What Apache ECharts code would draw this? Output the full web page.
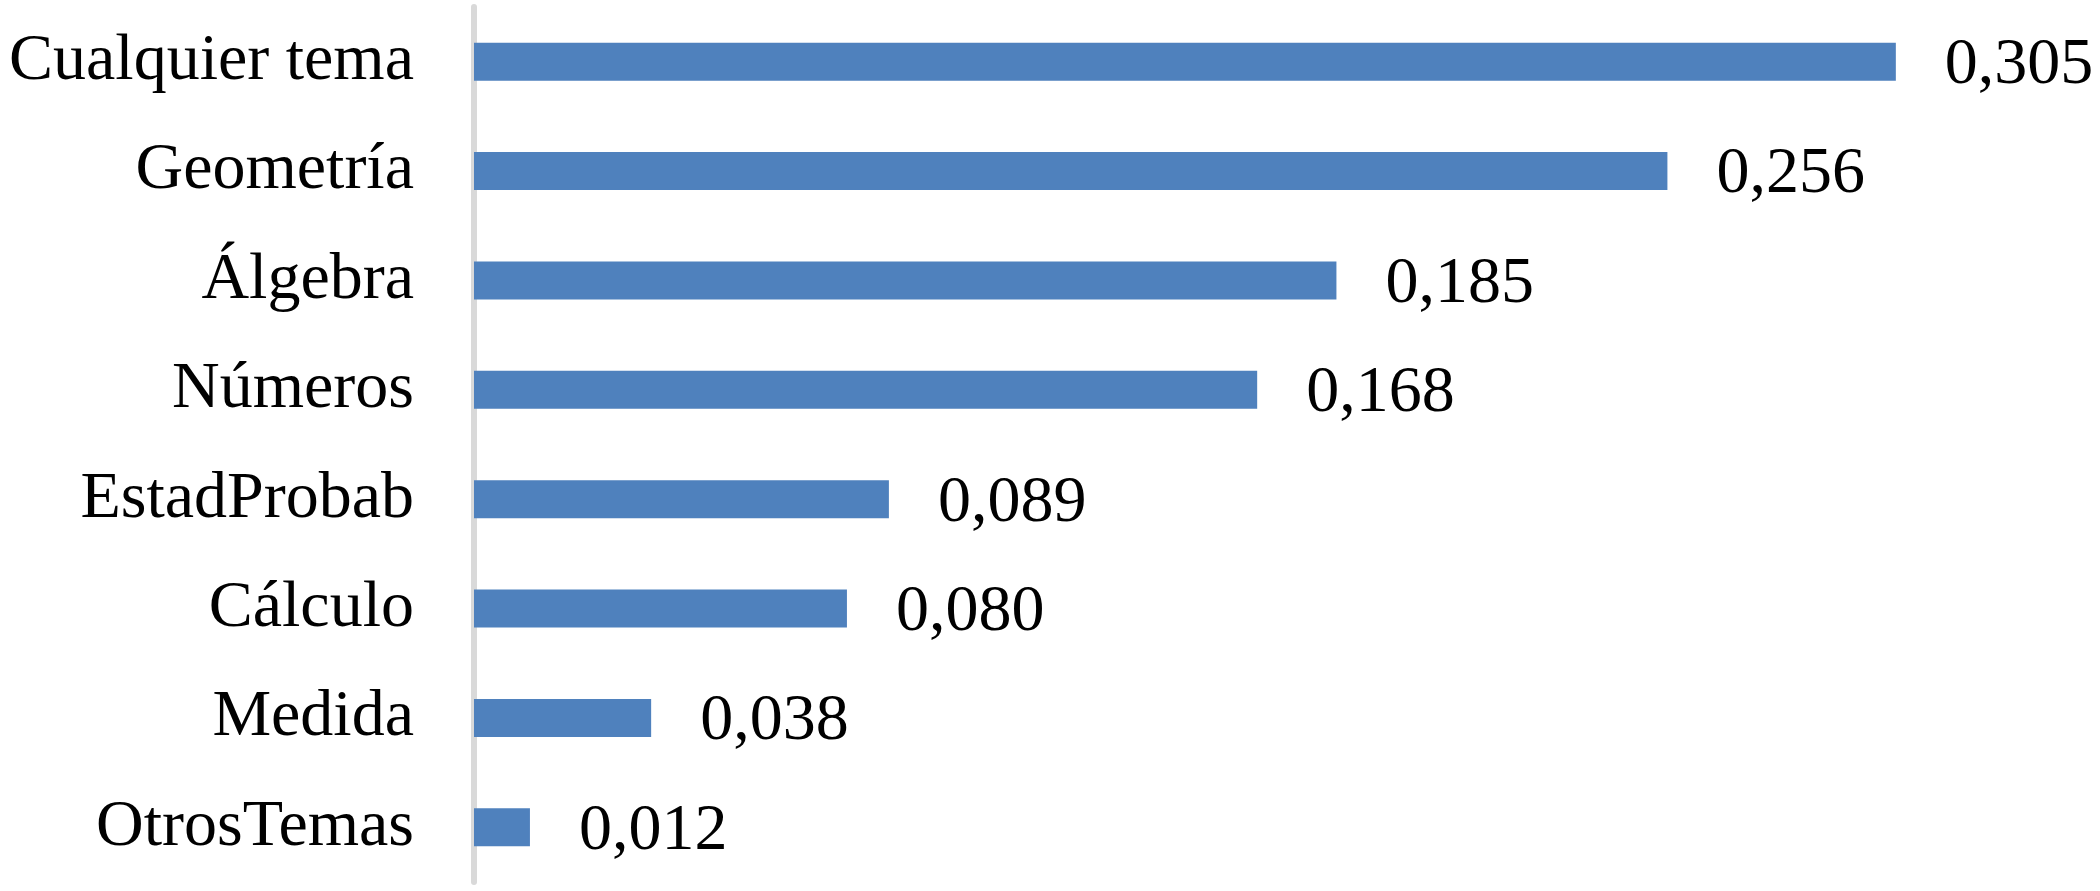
<!DOCTYPE html>
<html>
<head>
<meta charset="utf-8">
<script src="https://cdn.jsdelivr.net/npm/echarts@6/dist/echarts.min.js"></script>
<style>
html,body{margin:0;padding:0;background:#fff;}
#chart{width:2100px;height:891px;}
</style>
</head>
<body>
<div id="chart"></div>
<script>
const categories = ["Cualquier tema", "Geometría", "Álgebra", "Números", "EstadProbab", "Cálculo", "Medida", "OtrosTemas"];
const values = [0.305, 0.256, 0.185, 0.168, 0.089, 0.080, 0.038, 0.012];

const chart = echarts.init(document.getElementById('chart'));
chart.setOption({
  animation: false,
  backgroundColor: '#ffffff',
  grid: { left: 474, right: 41, top: 7, bottom: 9, containLabel: false },
  xAxis: {
    type: 'value', min: 0, max: 0.34,
    show: false
  },
  yAxis: {
    type: 'category',
    data: categories,
    inverse: true,
    offset: 4,
    axisLine: { show: true, lineStyle: { color: '#d9d9d9', width: 6 } },
    axisTick: { show: false },
    axisLabel: {
      margin: 56,
      color: '#000',
      fontFamily: 'Liberation Serif',
      fontSize: 66
    }
  },
  series: [{
    type: 'bar',
    data: values,
    barWidth: 38,
    itemStyle: { color: '#4f81bd' },
    label: {
      show: true,
      position: 'right',
      distance: 49,
      offset: [0, 4],
      color: '#000',
      fontFamily: 'Liberation Serif',
      fontSize: 66,
      formatter: p => p.value.toFixed(3).replace('.', ',')
    }
  }]
});
</script>
</body>
</html>
